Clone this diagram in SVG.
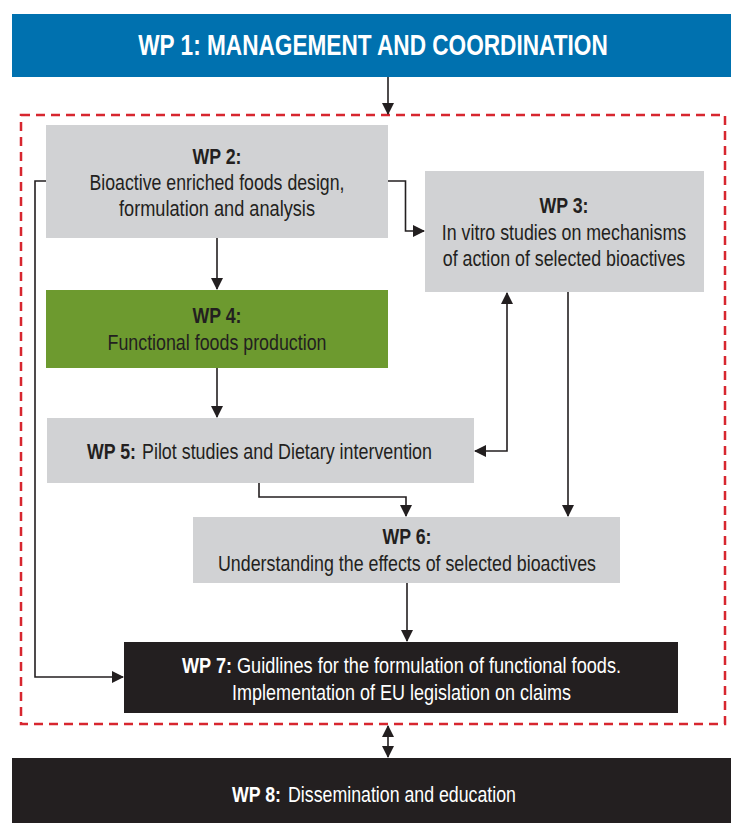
<svg xmlns="http://www.w3.org/2000/svg" width="731" height="823" viewBox="0 0 731 823">
<style>
text{font-family:"Liberation Sans Narrow","Liberation Sans",Arial,sans-serif;font-size:22px;text-anchor:middle;fill:#231f20}
.s{text-anchor:start}
.b{font-weight:bold}
.w{fill:#ffffff}
.gray{fill:#d1d2d4}
.con{fill:none;stroke:#231f20;stroke-width:1.6}
</style>
<defs>
<marker id="ah" markerWidth="12" markerHeight="12" refX="11" refY="6" orient="auto-start-reverse" markerUnits="userSpaceOnUse" viewBox="0 0 12 12">
<path d="M0,0 L12,6 L0,12 Z" fill="#231f20"/>
</marker>
</defs>
<rect width="731" height="823" fill="#ffffff"/>

<g id="boundary">
<rect x="21" y="115" width="704" height="609" fill="none" stroke="#d7262f" stroke-width="2.5" stroke-dasharray="9 6"/>
</g>

<g id="wp1">
<rect x="12" y="14" width="719" height="63" fill="#0071af"/>
<text transform="translate(373,55) scale(0.78,1)" class="b w" style="font-size:29px">WP 1: MANAGEMENT AND COORDINATION</text>
</g>

<g id="wp2">
<rect x="46" y="125" width="342" height="113" class="gray"/>
<text x="217" y="164" class="b" textLength="49" lengthAdjust="spacingAndGlyphs">WP 2:</text>
<text x="217" y="190" textLength="255" lengthAdjust="spacingAndGlyphs">Bioactive enriched foods design,</text>
<text x="217" y="216" textLength="196" lengthAdjust="spacingAndGlyphs">formulation and analysis</text>
</g>

<g id="wp3">
<rect x="425" y="171" width="279" height="121" class="gray"/>
<text x="564" y="213" class="b" textLength="49" lengthAdjust="spacingAndGlyphs">WP 3:</text>
<text transform="translate(564,240) scale(0.81,1)">In vitro studies on mechanisms</text>
<text transform="translate(564,266) scale(0.81,1)">of action of selected bioactives</text>
</g>

<g id="wp4">
<rect x="46" y="290" width="342" height="78" fill="#6d9a2f"/>
<text x="217" y="323" class="b" textLength="49" lengthAdjust="spacingAndGlyphs">WP 4:</text>
<text x="217" y="350" textLength="219" lengthAdjust="spacingAndGlyphs">Functional foods production</text>
</g>

<g id="wp5">
<rect x="47" y="418" width="427" height="65" class="gray"/>
<text x="87" y="459" class="s b" textLength="49" lengthAdjust="spacingAndGlyphs">WP 5:</text>
<text x="142" y="459" class="s" textLength="290" lengthAdjust="spacingAndGlyphs">Pilot studies and Dietary intervention</text>
</g>

<g id="wp6">
<rect x="193" y="517" width="427" height="66" class="gray"/>
<text x="407" y="544" class="b" textLength="49" lengthAdjust="spacingAndGlyphs">WP 6:</text>
<text x="407" y="571" textLength="378" lengthAdjust="spacingAndGlyphs">Understanding the effects of selected bioactives</text>
</g>

<g id="wp7">
<rect x="124" y="642" width="554" height="71" fill="#231f20"/>
<text x="182" y="673" class="s b w" textLength="50" lengthAdjust="spacingAndGlyphs">WP 7:</text>
<text x="237" y="673" class="s w" textLength="384" lengthAdjust="spacingAndGlyphs">Guidlines for the formulation of functional foods.</text>
<text x="401.5" y="700" class="w" textLength="339" lengthAdjust="spacingAndGlyphs">Implementation of EU legislation on claims</text>
</g>

<g id="wp8">
<rect x="12" y="758" width="719" height="65" fill="#231f20"/>
<text x="232" y="802" class="s b w" textLength="49" lengthAdjust="spacingAndGlyphs">WP 8:</text>
<text x="288" y="802" class="s w" textLength="228" lengthAdjust="spacingAndGlyphs">Dissemination and education</text>
</g>

<g id="connectors">
<path class="con" d="M388,77 V114" marker-end="url(#ah)"/>
<path class="con" d="M388,181 H405.5 V231 H424" marker-end="url(#ah)"/>
<path class="con" d="M46,181 H35 V677 H123" marker-end="url(#ah)"/>
<path class="con" d="M217,238 V289" marker-end="url(#ah)"/>
<path class="con" d="M217,368 V417" marker-end="url(#ah)"/>
<path class="con" d="M507,293 V451 H475" marker-start="url(#ah)" marker-end="url(#ah)"/>
<path class="con" d="M568,292 V516" marker-end="url(#ah)"/>
<path class="con" d="M259,483 V497 H406 V516" marker-end="url(#ah)"/>
<path class="con" d="M407,583 V641" marker-end="url(#ah)"/>
<path class="con" d="M388,726 V757" marker-start="url(#ah)" marker-end="url(#ah)"/>
</g>
</svg>
